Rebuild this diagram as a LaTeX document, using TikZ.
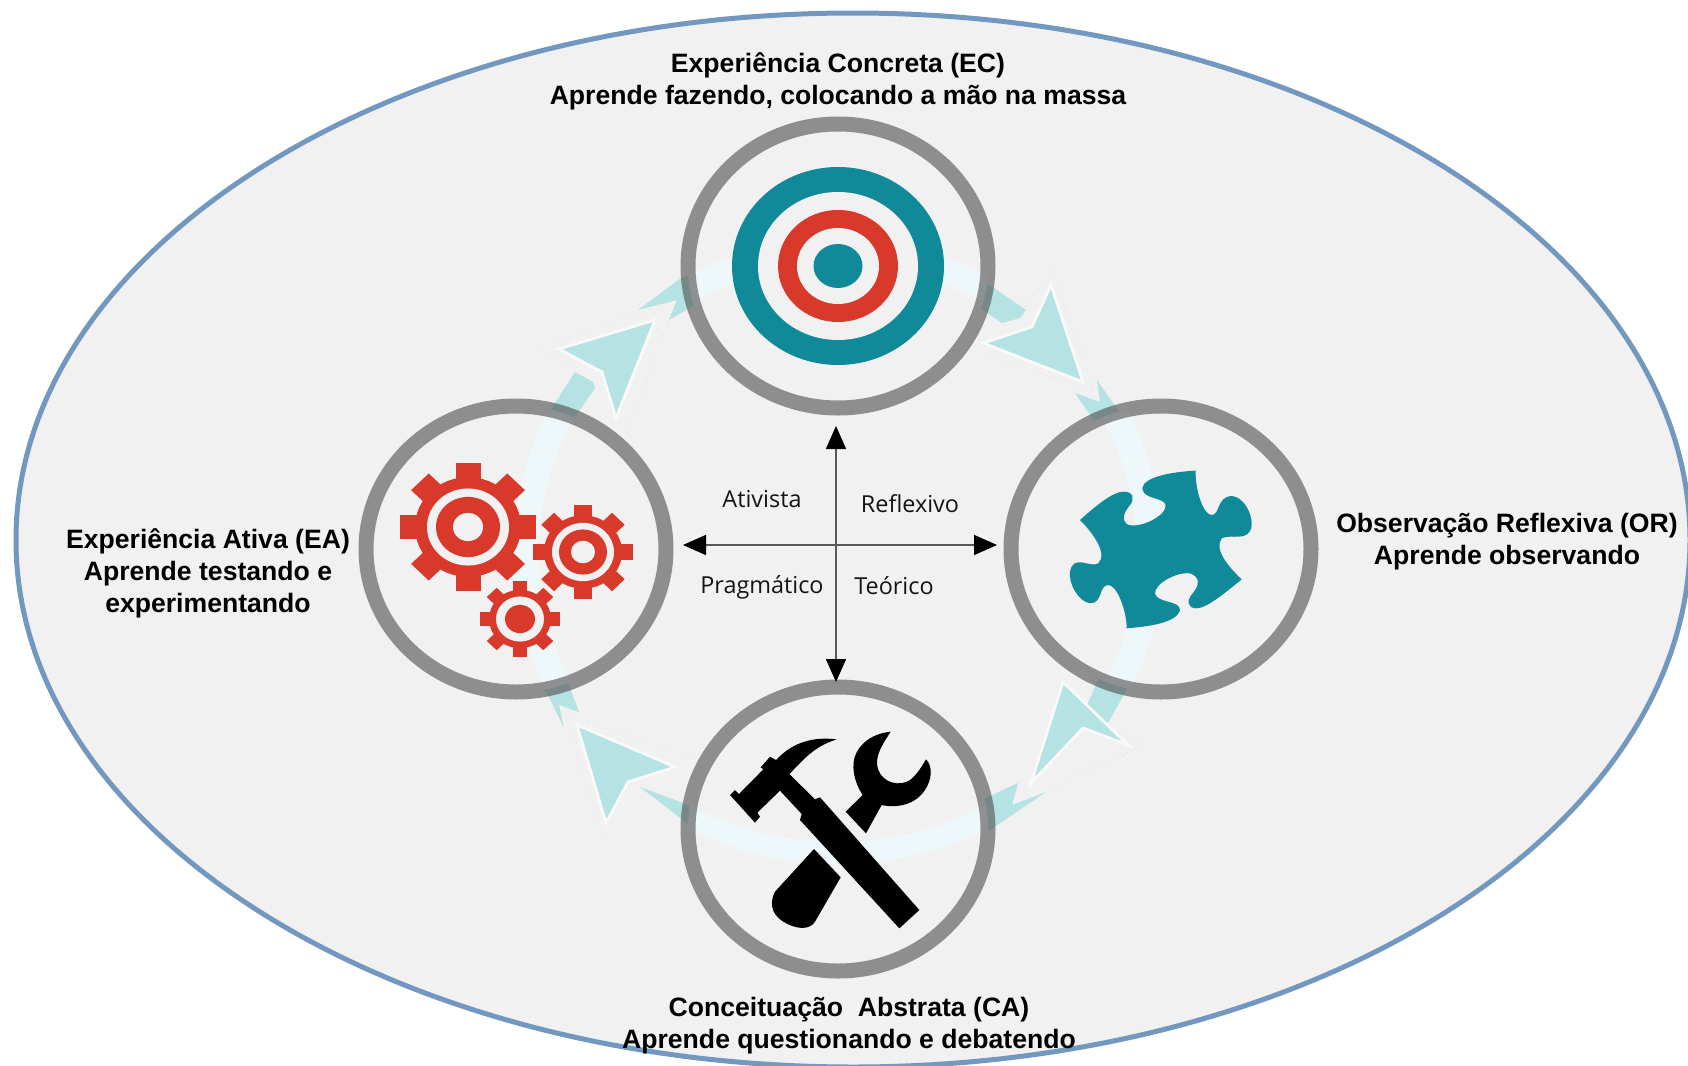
\documentclass[tikz,border=0pt]{standalone}
\usepackage{fontspec}
\setmainfont{Liberation Sans}
\newfontfamily\crossfont{Open Sans}
\usepackage{tikz}
\usetikzlibrary{arrows.meta}

\definecolor{backgray}{HTML}{F1F1F1}
\definecolor{outerblue}{HTML}{7398BF}
\definecolor{ringgray}{HTML}{4D4D4D}
\definecolor{bandteal}{HTML}{B5E2E2}
\definecolor{bandpale}{HTML}{EEF7F9}
\definecolor{iconteal}{HTML}{108A99}
\definecolor{iconred}{HTML}{D9392B}

\tikzset{
  phase/.style={font=\fontsize{13.3}{16}\selectfont\bfseries, align=center, inner sep=0pt},
  quadrant/.style={font=\crossfont\fontsize{11.7}{13}\selectfont, text=black!92, inner sep=0pt},
  ring/.style={draw=ringgray, draw opacity=.6, line width=7.5pt},
  arrowhead/.style={fill=bandteal, draw=white!60!backgray, line width=1.4pt, line join=miter},
  halo/.style={draw=gray!45, dotted, line width=.25pt}
}

\newcommand{\gearicon}[8]{
  \begin{scope}[shift={(#1,#2)}, yscale=.94]
  \foreach \a in {0,45,...,315} {
    \fill[iconred, rotate=\a] (-#5,0) rectangle (#5,#3);
  }
  \fill[iconred] (0,0) circle (#4);
  \fill[backgray] (0,0) circle (#6);
  \fill[iconred] (0,0) circle (#7);
  \fill[backgray] (0,0) circle (#8);
  \end{scope}
}

\begin{document}
\begin{tikzpicture}[x=0.5pt, y=-0.5pt]
\useasboundingbox (0,0) rectangle (1688,1066);
\fill[white] (0,0) rectangle (1688,1066);
\draw[outerblue, fill=backgray, line width=2.5pt] (853,540) ellipse [x radius=837, y radius=527];

\fill[bandteal] (975,275) -- (1026,310) -- (1020,318) -- (1002,323) -- (975,305) -- cycle;
\fill[bandteal] (1075,393) -- (1100,402) -- (1097,380) -- (1113,403) -- (1132,430) -- (1100,430) -- cycle;
\fill[bandteal] (1100,675) -- (1135,675) -- (1108,723) -- (1089,718) -- (1085,710) -- cycle;
\fill[bandteal] (975,803) -- (1018,783) -- (1012,805) -- (1046,792) -- (990,830) -- (975,835) -- cycle;
\fill[bandteal] (640,787) -- (683,803) -- (695,810) -- (695,830) -- (661,803) -- cycle;
\fill[bandteal] (535,675) -- (565,675) -- (579,712) -- (559,705) -- (564,728) -- (549,697) -- cycle;
\fill[bandteal] (575,372) -- (593,382) -- (595,388) -- (573,420) -- (545,420) -- (557,400) -- cycle;
\fill[bandteal] (638,310) -- (681,278) -- (695,273) -- (695,305) -- (669,320) -- (677,300) -- cycle;

\draw[halo] (1026,307) -- (1053,268) -- (1094,392) -- (973,350);
\draw[halo] (1091,720) -- (1144,745) -- (1046,790);
\draw[halo] (695,758) -- (565,715) -- (604,842);
\draw[halo] (573,368) -- (538,348) -- (677,300) -- (626,435);

\filldraw[arrowhead] (1051,285) -- (1083,382) -- (983,343) -- (1032,327) -- cycle;
\filldraw[arrowhead] (1063,682) -- (1128,745) -- (1083,728) -- (1031,783) -- cycle;
\filldraw[arrowhead] (577,725) -- (675,767) -- (628,782) -- (606,823) -- cycle;
\filldraw[arrowhead] (655,320) -- (616,418) -- (602,372) -- (559,349) -- cycle;

\fill[backgray] (838,266) ellipse [x radius=150, y radius=142];
\fill[backgray] (1161,549) ellipse [x radius=150, y radius=143];
\fill[backgray] (838,829) ellipse [x radius=150, y radius=142];
\fill[backgray] (516,549) ellipse [x radius=150, y radius=143];

\begin{scope}
\clip (838,266) ellipse [x radius=150, y radius=142];
\draw[bandpale, line width=13pt] (838,553) ellipse [x radius=312, y radius=300];
\end{scope}
\begin{scope}
\clip (1161,549) ellipse [x radius=150, y radius=143];
\draw[bandpale, line width=13pt] (838,553) ellipse [x radius=312, y radius=300];
\end{scope}
\begin{scope}
\clip (838,829) ellipse [x radius=150, y radius=142];
\draw[bandpale, line width=11pt] (838,553) ellipse [x radius=312, y radius=300];
\end{scope}
\begin{scope}
\clip (516,549) ellipse [x radius=150, y radius=143];
\draw[bandpale, line width=13pt] (838,553) ellipse [x radius=312, y radius=300];
\end{scope}

\draw[ring] (838,266) ellipse [x radius=150, y radius=142];
\draw[ring] (1161,549) ellipse [x radius=150, y radius=143];
\draw[ring] (838,829) ellipse [x radius=150, y radius=142];
\draw[ring] (516,549) ellipse [x radius=150, y radius=143];

\fill[iconteal] (838,266) ellipse [x radius=106, y radius=99];
\fill[backgray] (838,266) ellipse [x radius=80, y radius=74];
\fill[iconred] (838,266) ellipse [x radius=60, y radius=56];
\fill[backgray] (838,266) ellipse [x radius=41, y radius=38];
\fill[iconteal] (838,266) ellipse [x radius=24.5, y radius=22];

\begin{scope}[shift={(1000,380)}, scale=1/3]
\fill[iconteal] (240,420) .. controls (290,375) and (340,335) .. (370,335) .. controls (400,335) and (405,355) .. (390,375) .. controls (370,400) and (365,420) .. (380,432) .. controls (410,450) and (500,410) .. (497,375) .. controls (490,350) and (430,360) .. (427,325) .. controls (430,290) and (520,275) .. (587,272) .. controls (585,330) and (610,405) .. (635,405) .. controls (660,405) and (650,350) .. (695,348) .. controls (730,350) and (757,400) .. (755,435) .. controls (750,490) and (690,460) .. (665,475) .. controls (640,510) and (690,565) .. (725,598) .. controls (680,635) and (620,685) .. (590,685) .. controls (560,685) and (560,660) .. (578,640) .. controls (600,615) and (600,590) .. (570,580) .. controls (530,575) and (465,610) .. (465,640) .. controls (470,670) and (540,660) .. (540,690) .. controls (530,730) and (440,740) .. (380,745) .. controls (380,690) and (350,615) .. (325,615) .. controls (295,615) and (310,670) .. (270,670) .. controls (235,665) and (205,610) .. (210,575) .. controls (220,520) and (270,565) .. (295,550) .. controls (325,520) and (275,455) .. (240,420) -- cycle;
\end{scope}

\begin{scope}[shift={(670,680)}, scale=1/3]
\fill[black] (180,345) -- (195,330) -- (207,342) -- (280,268) -- (272,262) -- (300,230) -- (318,240) .. controls (370,185) and (430,170) .. (500,178) .. controls (430,200) and (400,240) .. (358,282) -- (435,358) -- (450,352) -- (748,690) -- (688,745) -- (390,420) -- (395,402) -- (330,332) -- (262,398) -- (270,410) -- (255,428) -- cycle;
\fill[black] (432,507) -- (512,592) -- (435,725) .. controls (420,750) and (380,750) .. (340,725) .. controls (300,700) and (300,665) .. (315,635) -- cycle;
\fill[black] (527,395) -- (578,345) .. controls (555,310) and (545,270) .. (553,235) .. controls (565,190) and (610,160) .. (662,155) .. controls (640,190) and (610,230) .. (625,270) .. controls (640,310) and (690,320) .. (720,300) .. controls (740,285) and (755,260) .. (768,238) .. controls (790,260) and (785,300) .. (765,330) .. controls (735,375) and (680,385) .. (635,375) -- (588,460) -- cycle;
\end{scope}

\gearicon{468}{527}{68}{53}{12.5}{41}{32}{15}
\gearicon{583}{552}{50}{39}{9}{31}{24}{12}
\gearicon{520}{619}{40}{31}{7}{24}{15}{0}

\coordinate (crossN) at (836,426);
\coordinate (crossS) at (836,682);
\coordinate (crossW) at (683,545);
\coordinate (crossE) at (997,545);
\draw[black!65, line width=.8pt, {Triangle[black, length=11.5pt, width=10pt]}-{Triangle[black, length=11.5pt, width=10pt]}] (crossN) -- (crossS);
\draw[black!65, line width=.8pt, {Triangle[black, length=11.5pt, width=10pt]}-{Triangle[black, length=11.5pt, width=10pt]}] (crossW) -- (crossE);

\node[quadrant] (ativista) at (762,499) {Ativista};
\node[quadrant] (reflexivo) at (910,504) {Reflexivo};
\node[quadrant] (pragmatico) at (762,587) {Pragmático};
\node[quadrant] (teorico) at (894,586) {Teórico};

\node[phase] (labelEC) at (838,81) {Experiência Concreta (EC)\\Aprende fazendo, colocando a mão na massa};
\node[phase] (labelOR) at (1507,542) {Observação Reflexiva (OR)\\Aprende observando};
\node[phase] (labelCA) at (849,1026) {Conceituação\ \ Abstrata (CA)\\Aprende questionando e debatendo};
\node[phase] (labelEA) at (208,573) {Experiência Ativa (EA)\\Aprende testando e\\experimentando};
\end{tikzpicture}
\end{document}
